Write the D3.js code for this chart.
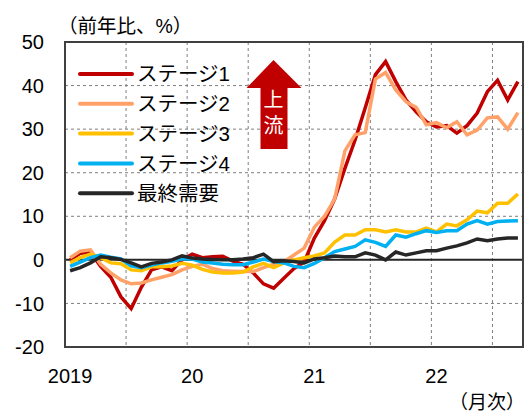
<!DOCTYPE html>
<html>
<head>
<meta charset="utf-8">
<script src="https://cdn.jsdelivr.net/npm/d3@7"></script>
<style>
  body { margin: 0; background: #fff; }
  text { font-family: "Liberation Sans", Arial, "Noto Sans CJK JP", sans-serif; fill: #000; }
</style>
</head>
<body>
<svg id="chart" width="525" height="412"></svg>
<script>
// monthly, Jan 2019 .. Sep 2022 (45 months), y/y %
var stage1 = [0, 1.5, 1.8, -1.5, -4, -8.5, -11.2, -6.3, -2.3, -1.6, -2.5, 0,
              1.3, 0.5, 0.7, 0.8, -0.3, -1, -3, -5.5, -6.5, -4.2, -2, -0.5,
              5, 9, 14, 21, 27.5, 34.9, 42.5, 45.5, 40.9, 36.7, 34, 31.7,
              30.5, 30.8, 29.1, 30.8, 33.7, 38.6, 41.2, 36.7, 40.9];
var stage2 = [0.5, 2, 2.3, -1, -3, -4.6, -5.5, -5.3, -4.6, -4, -3.4, -2.3,
              -1.5, -1, -2, -2.5, -2.6, -2.7, -2.7, -1.8, -1, -0.4, 1.1, 2.7,
              7.5, 10, 14, 25, 28.7, 29.2, 41.5, 43, 39, 36.3, 35, 31,
              31.5, 30.3, 31.7, 28.7, 29.8, 32.6, 32.8, 30, 33.8];
var stage3 = [-0.7, 0.5, 1.3, 0.5, -0.7, -0.9, -2.3, -2.5, -1.6, -1.6, -1.4, -0.8,
              -1.2, -2.2, -2.8, -3, -3, -2.8, -1.6, -0.8, -1.8, -0.7, 0, 0.5,
              0.9, 1.6, 4.1, 5.7, 5.7, 6.9, 6.9, 6.4, 6.9, 6.4, 6.4, 7.3,
              6.4, 8.2, 7.8, 9.2, 11.2, 10.8, 13, 13, 15.1];
var stage4 = [-1.5, -0.5, 0.5, 1.1, 0.6, 0.2, -1.4, -1.8, -1.2, -0.7, -0.3, 0.2,
              0.2, -0.5, -0.7, -1, -1.1, -1.1, -0.5, 0.2, -0.4, -0.7, -1.5, -1.8,
              -0.8, 0.5, 1.9, 2.5, 3.1, 4.6, 4, 3.1, 5.7, 5.2, 6, 6.7,
              6.3, 6.7, 6.7, 8.2, 9, 8.2, 8.8, 8.9, 9];
var finalDemand = [-2.5, -1.8, -0.7, 0.7, 0.5, 0.1, -0.7, -1.6, -0.8, -0.5, 0, 0.9,
              0.4, 0.2, 0.1, 0, 0, 0.2, 0.5, 1.3, -0.4, -0.2, -0.4, -0.7,
              0.2, 0.5, 0.9, 0.7, 0.7, 1.6, 1.1, 0, 1.8, 1.1, 1.6, 2.1,
              2.1, 2.7, 3.2, 3.9, 4.8, 4.4, 4.8, 5, 5];

var seriesNames = ['ステージ1', 'ステージ2', 'ステージ3', 'ステージ4', '最終需要'];
var seriesColors = ['#c00000', '#ffa169', '#ffc000', '#00b0f0', '#262626'];
var allSeries = [stage1, stage2, stage3, stage4, finalDemand];

var yTicks = [50, 40, 30, 20, 10, 0, -10, -20];
var yearLabels = ['2019', '20', '21', '22'];
var yearStart = [0, 12, 24, 36];
var gridMonths = [6, 12, 18, 24, 30, 36, 42];

var svg = d3.select('#chart');
var plotL = 65, plotR = 523, plotT = 42, plotB = 347;

var x = d3.scaleLinear().domain([0, 45]).range([plotL, plotR]);
var y = d3.scaleLinear().domain([-20, 50]).range([plotB, plotT]);

// grid
svg.append('g').selectAll('line').data([40, 30, 20, 10, -10]).enter().append('line')
    .attr('x1', plotL).attr('x2', plotR)
    .attr('y1', d => y(d)).attr('y2', d => y(d))
    .attr('stroke', '#7f7f7f').attr('stroke-width', 1).attr('stroke-dasharray', '3,3');
svg.append('g').selectAll('line').data(gridMonths).enter().append('line')
    .attr('x1', d => x(d)).attr('x2', d => x(d))
    .attr('y1', plotT).attr('y2', plotB)
    .attr('stroke', '#7f7f7f').attr('stroke-width', 1).attr('stroke-dasharray', '3,3');

// zero line
svg.append('line')
    .attr('x1', plotL).attr('x2', plotR)
    .attr('y1', y(0)).attr('y2', y(0))
    .attr('stroke', '#262626').attr('stroke-width', 2);

// series
var line = d3.line()
    .x((d, i) => x(i + 0.5))
    .y(d => y(d));
allSeries.forEach(function (s, k) {
    svg.append('path').datum(s)
        .attr('d', line)
        .attr('fill', 'none')
        .attr('stroke', seriesColors[k])
        .attr('stroke-width', 3.5)
        .attr('stroke-linejoin', 'miter');
});

// frame
svg.append('rect')
    .attr('x', plotL).attr('y', plotT)
    .attr('width', plotR - plotL).attr('height', plotB - plotT)
    .attr('fill', 'none').attr('stroke', '#404040').attr('stroke-width', 2);

// y tick labels
svg.append('g').selectAll('text').data(yTicks).enter().append('text')
    .attr('x', 44).attr('y', d => y(d))
    .attr('dy', '0.36em')
    .attr('text-anchor', 'end')
    .style('font-size', '20px')
    .text(d => d);

// x labels
svg.append('g').selectAll('text').data(yearLabels).enter().append('text')
    .attr('x', (d, i) => x(yearStart[i] + 0.5))
    .attr('y', 383)
    .attr('text-anchor', 'middle')
    .style('font-size', '20px')
    .text(d => d);

svg.append('text')
    .attr('x', 58).attr('y', 33)
    .style('font-size', '19.5px')
    .text('（前年比、%）');

svg.append('text')
    .attr('x', 525).attr('y', 409)
    .attr('text-anchor', 'end')
    .style('font-size', '19px')
    .text('（月次）');

// legend
var legend = svg.append('g');
seriesNames.forEach(function (name, k) {
    var ly = 74 + k * 29.8;
    legend.append('line')
        .attr('x1', 80).attr('x2', 132)
        .attr('y1', ly).attr('y2', ly)
        .attr('stroke', seriesColors[k]).attr('stroke-width', 4)
        .attr('stroke-linecap', 'round');
    legend.append('text')
        .attr('x', 137).attr('y', ly)
        .attr('dy', '0.36em')
        .style('font-size', '20.5px')
        .text(name);
});

// "upstream" arrow
var ax = 273.5;
var arrow = svg.append('g');
arrow.append('path')
    .attr('d', 'M' + ax + ',60 L' + (ax + 28) + ',88 L' + (ax + 14) + ',88 L' + (ax + 14) + ',149 L' +
        (ax - 13) + ',149 L' + (ax - 13) + ',88 L' + (ax - 27) + ',88 Z')
    .attr('fill', '#c00000');
arrow.append('text')
    .attr('x', ax).attr('y', 100).attr('dy', '0.36em')
    .attr('text-anchor', 'middle')
    .style('font-size', '20px').style('fill', '#fff')
    .text('上');
arrow.append('text')
    .attr('x', ax).attr('y', 126).attr('dy', '0.36em')
    .attr('text-anchor', 'middle')
    .style('font-size', '20px').style('fill', '#fff')
    .text('流');
</script>
</body>
</html>
